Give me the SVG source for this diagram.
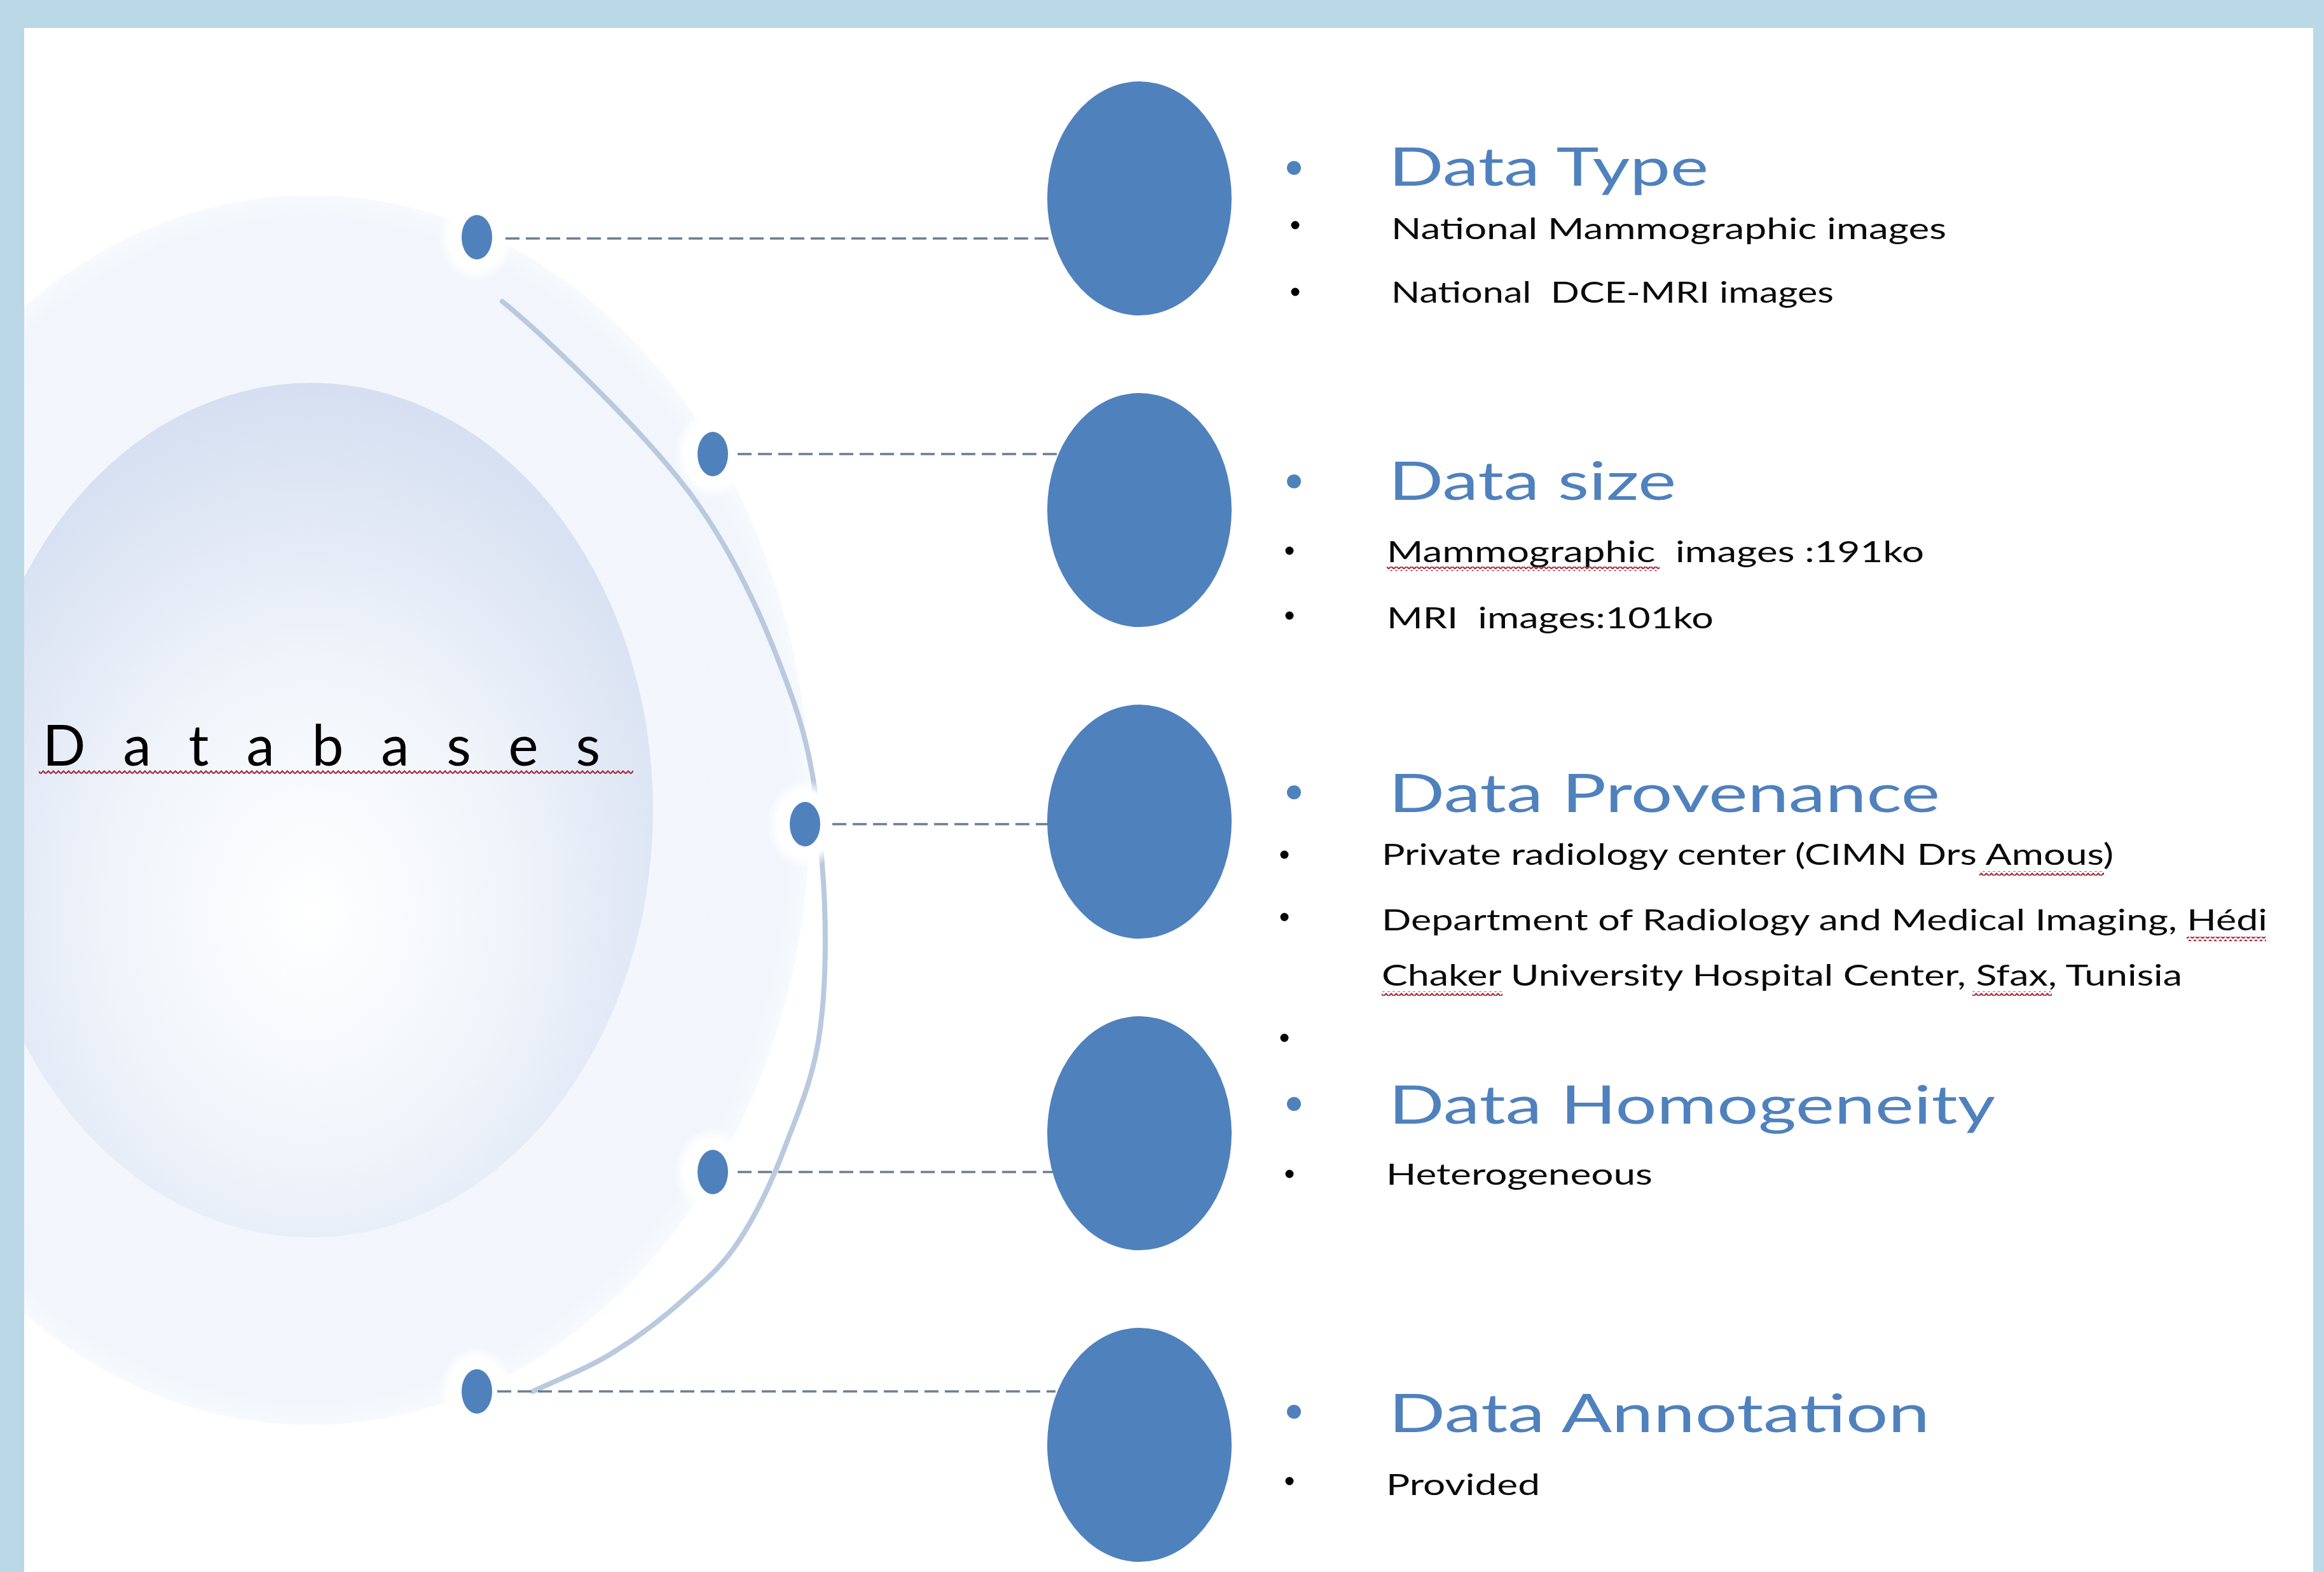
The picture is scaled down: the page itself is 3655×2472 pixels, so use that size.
<svg xmlns="http://www.w3.org/2000/svg" width="3655" height="2472" viewBox="0 0 3655 2472">
  <defs>
    <style>
      .head { font-family: Lato, "Open Sans", sans-serif; font-size: 84px; fill: #4f81bd; }
      .item { font-family: Lato, "Open Sans", sans-serif; font-size: 46px; fill: #0a0a0a; }
      .hubtxt { font-family: Lato, "Open Sans", sans-serif; font-size: 89px; fill: #000; }
      .big { fill: #4f81bd; }
      .dot { fill: #4f81bd; }
      .bul-b { fill: #4f81bd; }
      .bul-k { fill: #000; }
      .halo { fill: url(#haloGrad); }
      .dash { stroke: #6b7d92; stroke-width: 3.5; stroke-dasharray: 22 10; fill: none; }
      .squig { fill: url(#squiggle); }
    </style>
    <radialGradient id="innerGrad" cx="0.5" cy="0.62" r="0.62">
      <stop offset="0" stop-color="#ffffff"/>
      <stop offset="0.45" stop-color="#f1f5fb"/>
      <stop offset="1" stop-color="#d5dff1"/>
    </radialGradient>
    <radialGradient id="discGrad" cx="0.5" cy="0.5" r="0.5">
      <stop offset="0" stop-color="#f4f7fc"/>
      <stop offset="0.96" stop-color="#f2f6fc"/>
      <stop offset="1" stop-color="#f6f9fd"/>
    </radialGradient>
    <radialGradient id="haloGrad" cx="0.5" cy="0.5" r="0.5">
      <stop offset="0" stop-color="#ffffff" stop-opacity="1"/>
      <stop offset="0.72" stop-color="#ffffff" stop-opacity="1"/>
      <stop offset="1" stop-color="#ffffff" stop-opacity="0"/>
    </radialGradient>
    <!-- spell-check style wavy underline tile -->
    <pattern id="squiggle" x="0" y="0" width="8" height="7" patternUnits="userSpaceOnUse">
      <path d="M0,5.5 L4,1.5 L8,5.5" fill="none" stroke="#a3283a" stroke-width="2.2"/>
    </pattern>
  </defs>

  <!-- page background -->
  <rect x="0" y="0" width="3655" height="2472" fill="#ffffff"/>

  <!-- central hub -->
  <g id="hub">
    <ellipse cx="489" cy="1274" rx="785" ry="967" fill="url(#discGrad)"/>
    <ellipse cx="489" cy="1274" rx="538" ry="672" fill="url(#innerGrad)"/>
    <path d="M790,474 C850,523 1013,677 1089,781 C1165,885 1213,1004 1247,1100 C1281,1196 1286,1272 1293,1358 C1300,1444 1300,1543 1290,1617 C1281,1691 1257,1745 1236,1800 C1215,1856 1189,1910 1163,1950 C1137,1990 1112,2011 1079,2040 C1046,2070 1004,2102 964,2127 C924,2152 880,2168 838,2188"
          fill="none" stroke="#b9c9de" stroke-width="8" stroke-linecap="round"/>
    <text class="hubtxt" x="67" y="1204" textLength="877" lengthAdjust="spacing">D a t a b a s e s</text>
    <rect class="squig" x="61" y="1211" width="935" height="7"/>
  </g>

  <!-- ports on the hub rim -->
  <g id="ports">
    <ellipse class="halo" cx="750" cy="373" rx="60" ry="70"/>
    <ellipse class="halo" cx="1121" cy="714" rx="60" ry="70"/>
    <ellipse class="halo" cx="1266" cy="1296" rx="60" ry="70"/>
    <ellipse class="halo" cx="1121" cy="1843" rx="60" ry="70"/>
    <ellipse class="halo" cx="750" cy="2188" rx="60" ry="70"/>
    <ellipse class="dot" cx="750" cy="373" rx="24" ry="35"/>
    <ellipse class="dot" cx="1121" cy="714" rx="24" ry="35"/>
    <ellipse class="dot" cx="1266" cy="1296" rx="24" ry="35"/>
    <ellipse class="dot" cx="1121" cy="1843" rx="24" ry="35"/>
    <ellipse class="dot" cx="750" cy="2188" rx="24" ry="35"/>
  </g>

  <!-- dashed connectors -->
  <g id="connectors">
    <line class="dash" x1="795" y1="375" x2="1655" y2="375"/>
    <line class="dash" x1="1160" y1="714" x2="1662" y2="714"/>
    <line class="dash" x1="1309" y1="1296" x2="1648" y2="1296"/>
    <line class="dash" x1="1160" y1="1843" x2="1656" y2="1843"/>
    <line class="dash" x1="782" y1="2188" x2="1660" y2="2188"/>
  </g>

  <!-- Data Type -->
  <g id="node-data-type">
    <ellipse class="big" cx="1792" cy="312" rx="145" ry="184"/>
    <circle class="bul-b" cx="2035" cy="264" r="11"/>
    <text class="head" x="2184" y="292" textLength="503" lengthAdjust="spacingAndGlyphs">Data Type</text>
    <circle class="bul-k" cx="2037" cy="354" r="6.5"/>
    <text class="item" x="2188" y="376" textLength="873" lengthAdjust="spacingAndGlyphs">National Mammographic images</text>
    <circle class="bul-k" cx="2037" cy="459" r="6.5"/>
    <text class="item" x="2188" y="476" textLength="696" lengthAdjust="spacingAndGlyphs" style="white-space:pre">National  DCE-MRI images</text>
  </g>

  <!-- Data size -->
  <g id="node-data-size">
    <ellipse class="big" cx="1792" cy="802" rx="145" ry="184"/>
    <circle class="bul-b" cx="2035" cy="757" r="11"/>
    <text class="head" x="2184" y="786" textLength="452" lengthAdjust="spacingAndGlyphs">Data size</text>
    <circle class="bul-k" cx="2028" cy="866" r="6.5"/>
    <text class="item" x="2181" y="884" textLength="845" lengthAdjust="spacingAndGlyphs" style="white-space:pre">Mammographic  images :191ko</text>
    <rect class="squig" x="2181" y="891" width="429" height="7"/>
    <circle class="bul-k" cx="2028" cy="968" r="6.5"/>
    <text class="item" x="2181" y="988" textLength="514" lengthAdjust="spacingAndGlyphs" style="white-space:pre">MRI  images:101ko</text>
  </g>

  <!-- Data Provenance -->
  <g id="node-data-provenance">
    <ellipse class="big" cx="1792" cy="1292" rx="145" ry="184"/>
    <circle class="bul-b" cx="2035" cy="1246" r="11"/>
    <text class="head" x="2184" y="1277" textLength="867" lengthAdjust="spacingAndGlyphs">Data Provenance</text>
    <circle class="bul-k" cx="2020" cy="1344" r="6.5"/>
    <text class="item" x="2173" y="1360" textLength="1151" lengthAdjust="spacingAndGlyphs">Private radiology center (CIMN Drs Amous)</text>
    <rect class="squig" x="3113" y="1370" width="196" height="7"/>
    <circle class="bul-k" cx="2020" cy="1442" r="6.5"/>
    <text class="item" x="2173" y="1463" textLength="1393" lengthAdjust="spacingAndGlyphs">Department of Radiology and Medical Imaging, Hédi</text>
    <rect class="squig" x="3439" y="1473" width="125" height="7"/>
    <text class="item" x="2173" y="1550" textLength="1259" lengthAdjust="spacingAndGlyphs">Chaker University Hospital Center, Sfax, Tunisia</text>
    <rect class="squig" x="2173" y="1559" width="190" height="7"/>
    <rect class="squig" x="3102" y="1559" width="125" height="7"/>
    <circle class="bul-k" cx="2020" cy="1632" r="6.5"/>
  </g>

  <!-- Data Homogeneity -->
  <g id="node-data-homogeneity">
    <ellipse class="big" cx="1792" cy="1782" rx="145" ry="184"/>
    <circle class="bul-b" cx="2035" cy="1736" r="11"/>
    <text class="head" x="2184" y="1767" textLength="954" lengthAdjust="spacingAndGlyphs">Data Homogeneity</text>
    <circle class="bul-k" cx="2028" cy="1846" r="6.5"/>
    <text class="item" x="2180" y="1863" textLength="419" lengthAdjust="spacingAndGlyphs">Heterogeneous</text>
  </g>

  <!-- Data Annotation -->
  <g id="node-data-annotation">
    <ellipse class="big" cx="1792" cy="2272" rx="145" ry="184"/>
    <circle class="bul-b" cx="2035" cy="2220" r="11"/>
    <text class="head" x="2184" y="2252" textLength="851" lengthAdjust="spacingAndGlyphs">Data Annotation</text>
    <circle class="bul-k" cx="2028" cy="2329" r="6.5"/>
    <text class="item" x="2180" y="2351" textLength="242" lengthAdjust="spacingAndGlyphs">Provided</text>
  </g>

  <!-- light blue frame (top, left, right) -->
  <path d="M0,0 H3655 V2472 H3638 V44 H38 V2472 H0 Z" fill="#bad8e5"/>
</svg>
